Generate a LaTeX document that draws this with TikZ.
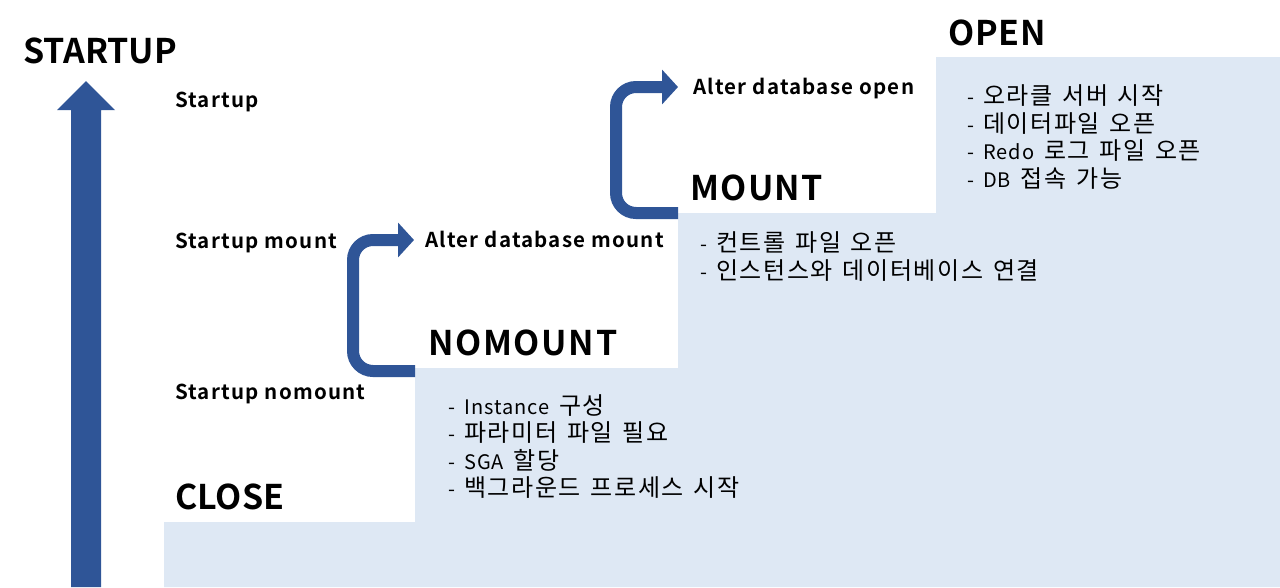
\documentclass[tikz,border=0pt]{standalone}
\usepackage{fontspec}
\setmainfont{Noto Sans CJK KR}[BoldFont={Noto Sans CJK KR Bold}]
\newfontfamily\hfont{Noto Sans CJK KR}[Scale=1.2, LetterSpace=6.7, WordSpace=1.4]
\newfontfamily\ifont{Noto Sans CJK KR}[LetterSpace=5, WordSpace=1.8]
\newcommand\K[1]{{\hfont #1}}
\newcommand\lidash{-\hskip9pt\relax}
\usetikzlibrary{arrows.meta}
\definecolor{arrowblue}{HTML}{2F5597}
\definecolor{stepblue}{HTML}{DEE8F4}
\tikzset{
  bendarrow/.style={draw=arrowblue, line width=12pt, rounded corners=20pt, -{Triangle[length=16pt,width=34pt]}},
  state/.style={anchor=base west, inner sep=0pt, font=\bfseries\fontsize{34}{38}\selectfont},
  cmd/.style={anchor=base west, inner sep=0pt, font=\bfseries\fontsize{20.5}{24}\selectfont\addfontfeatures{LetterSpace=6}},
  item/.style={anchor=base west, inner sep=0pt, font=\ifont\fontsize{20}{24}\selectfont},
}
\begin{document}
\begin{tikzpicture}[x=1pt,y=-1pt]
\useasboundingbox (0,0) rectangle (1280,587);
% staircase
\fill[stepblue] (164,587) -- (164,522) -- (415,522) -- (415,368) -- (678,368) -- (678,213) -- (936,213) -- (936,57) -- (1280,57) -- (1280,587) -- cycle;
% big STARTUP arrow
\fill[arrowblue] (71,587) -- (71,110) -- (57,110) -- (86,81) -- (115,110) -- (101,110) -- (101,587) -- cycle;
\node[state] (startup) at (23,63) {STARTUP};
% left commands
\node[cmd] (cstartup) at (175,107) {Startup};
\node[cmd] (cmount) at (175,248) {Startup mount};
\node[cmd] (cnomount) at (175,399) {Startup nomount};
% states
\node[state] (close) at (175,509) {CLOSE};
\node[state, font=\bfseries\fontsize{34}{38}\selectfont\addfontfeatures{LetterSpace=5}] (nomount) at (428,355) {NOMOUNT};
\node[state, font=\bfseries\fontsize{34}{38}\selectfont\addfontfeatures{LetterSpace=4}] (mount) at (690,200) {MOUNT};
\node[state, font=\bfseries\fontsize{34}{38}\selectfont\addfontfeatures{LetterSpace=2}] (open) at (948,45) {OPEN};
% alter commands
\node[cmd] (amount) at (425,247) {Alter database mount};
\node[cmd] (aopen) at (693,94) {Alter database open};
% connectors
\coordinate (s1) at (415,371);
\coordinate (t1) at (414,240);
\coordinate (s2) at (678,213);
\coordinate (t2) at (678,87);
\draw[bendarrow] (s1) -- ++(-62,0) |- (t1);
\draw[bendarrow] (s2) -- ++(-62,0) |- (t2);
% lists
\node[item] (o1) at (967,104.5) {\lidash\K{오라클 서버 시작}};
\node[item] (o2) at (967,132) {\lidash\K{데이터파일 오픈}};
\node[item] (o3) at (967,159.5) {\lidash Redo \K{로그 파일 오픈}};
\node[item] (o4) at (967,187) {\lidash DB \K{접속 가능}};
\node[item] (m1) at (700,251) {\lidash\K{컨트롤 파일 오픈}};
\node[item] (m2) at (700,279) {\lidash\K{인스턴스와 데이터베이스 연결}};
\node[item] (n1) at (448,414) {\lidash Instance \K{구성}};
\node[item] (n2) at (448,441.5) {\lidash\K{파라미터 파일 필요}};
\node[item] (n3) at (448,469) {\lidash SGA \K{할당}};
\node[item] (n4) at (448,496.5) {\lidash\K{백그라운드 프로세스 시작}};
\end{tikzpicture}
\end{document}
